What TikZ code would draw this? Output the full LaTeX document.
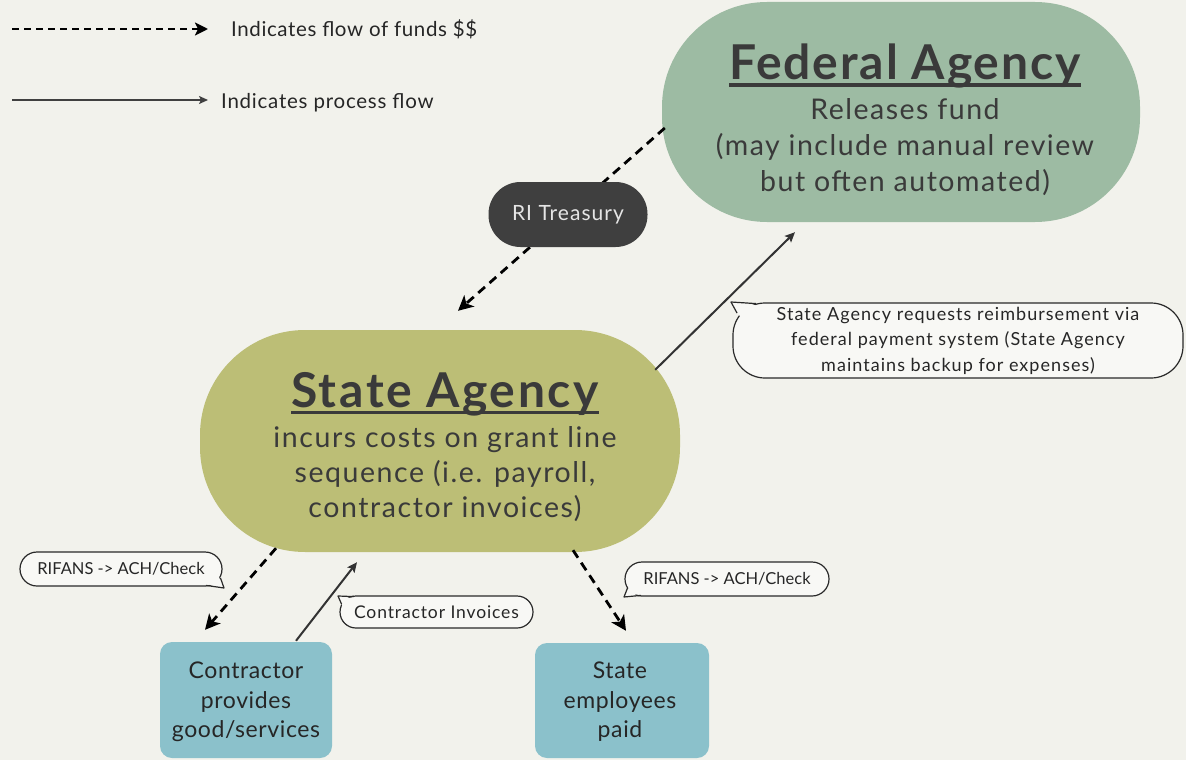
\documentclass[tikz,border=0pt]{standalone}
\usepackage{fontspec}
\setmainfont{Lato}
\usetikzlibrary{arrows.meta,calc}
\definecolor{bg}{HTML}{F2F2EC}
\definecolor{fedc}{HTML}{9DBBA3}
\definecolor{statec}{HTML}{BCBE76}
\definecolor{trec}{HTML}{3F3F3F}
\definecolor{boxc}{HTML}{8BC1CB}
\definecolor{txt}{HTML}{3A3A3A}
\definecolor{cfill}{HTML}{F8F8F5}
\definecolor{cline}{HTML}{2A2A2A}
\newcommand\hul[1]{\setbox0\hbox{#1}\rlap{\rule[-7pt]{\wd0}{3.5pt}}\box0}
\newcommand\ls[1]{\addfontfeatures{LetterSpace=#1}}
\tikzset{
  bigshape/.style={inner sep=0pt, rounded corners=105pt},
  smallbox/.style={fill=boxc, rounded corners=12pt, inner sep=0pt},
  bubble/.style={draw=cline, fill=cfill, line width=1.2pt, inner sep=0pt, text=black!85},
  fund/.style={draw=black, line width=2.8pt, dash pattern=on 9pt off 6pt, -{Stealth[length=15pt,width=15pt,inset=4pt]}},
  proc/.style={draw=black!80, line width=2pt, -{Stealth[length=10pt,width=9pt,inset=2pt]}},
  tailfill/.style={fill=cfill},
  tailline/.style={draw=cline, line width=1.2pt, line join=round},
}
\begin{document}
\begin{tikzpicture}[x=1pt,y=-1pt]
\fill[bg] (0,0) rectangle (1186,760);
\useasboundingbox (0,0) rectangle (1186,760);

% legend
\coordinate (l1s) at (12,29);
\coordinate (l1e) at (208,29);
\draw[draw=black, line width=2.2pt, dash pattern=on 7pt off 5pt, -{Stealth[length=13pt,width=13pt,inset=3pt]}] (l1s) -- (l1e);
\node[anchor=base west, inner sep=0pt, font=\fontsize{20.5}{24}\selectfont\ls{3}, text=black!85] (leg1) at (231,37) {Indicates flow of funds \$\$};
\coordinate (l2s) at (12,100);
\coordinate (l2e) at (208,100);
\draw[draw=black!75, line width=2pt, -{Stealth[length=9pt,width=8pt,inset=2pt]}] (l2s) -- (l2e);
\node[anchor=base west, inner sep=0pt, font=\fontsize{20.5}{24}\selectfont\ls{3.7}, text=black!85] (leg2) at (221,108) {Indicates process flow};

% main shapes
\node[bigshape, fill=fedc, minimum width=478pt, minimum height=220pt] (fed) at (901,112) {};
\node[bigshape, fill=statec, minimum width=480pt, minimum height=222pt] (state) at (440,441) {};

% funds flow federal -> state (through treasury)
\draw[fund] ($(fed.west)+(3,16)$) -- ($(state.north)+(18,-19)$);

\node[fill=trec, rounded corners=32pt, minimum width=159pt, minimum height=65pt, inner sep=0pt,
      text=white!90!black, font=\fontsize{21}{24}\selectfont\ls{5}] (tre) at (568,214.5) {RI Treasury};

% texts in big shapes
\node[anchor=base, inner sep=0pt, text=txt, font=\bfseries\fontsize{48}{54}\selectfont\ls{4}] (fedtitle) at (905,80) {\hul{Federal Agency}};
\node[align=center, inner sep=0pt, text=txt, font=\fontsize{28.5}{36}\selectfont\ls{5.3}] (fedbody) at (905,147)
  {Releases fund\\(may include manual review\\but often automated)};
\node[anchor=base, inner sep=0pt, text=txt, font=\bfseries\fontsize{48}{54}\selectfont\ls{5.5}] (sttitle) at (445,407) {\hul{State Agency}};
\node[align=center, inner sep=0pt, text=txt, font=\fontsize{28.5}{35}\selectfont\ls{5.5}] (stbody) at (445,474)
  {incurs costs on grant line\\sequence (i.e. payroll,\\contractor invoices)};

% bottom boxes
\node[smallbox, minimum width=172pt, minimum height=116pt] (con) at (246,700) {};
\node[align=center, inner sep=0pt, text=black!85, font=\fontsize{23}{29.5}\selectfont\ls{2.6}] (context) at (246,702)
  {Contractor\\provides\\good/services};
\node[smallbox, minimum width=174pt, minimum height=115pt] (emp) at (622,700.5) {};
\node[align=center, inner sep=0pt, text=black!85, font=\fontsize{23}{29.5}\selectfont\ls{2.6}] (emptext) at (620,702)
  {State\\employees\\paid};

% connectors
\draw[proc] ($(state.north east)+(-25,40)$) -- ($(fed.south)+(-106,10)$);
\draw[fund] ($(state.south)+(-164,-4)$) -- ($(con.north)+(-41,-12)$);
\draw[proc] ($(con.north)+(50,-1)$) -- ($(state.south)+(-83,10)$);
\draw[fund] ($(state.south)+(133,-2)$) -- ($(emp.north)+(4,-12)$);

% callouts
\node[bubble, rounded corners=32pt, minimum width=450pt, minimum height=75pt, align=center,
      font=\fontsize{18}{25.5}\selectfont\ls{5.8}] (bigc) at (958,340.5)
  {State Agency requests reimbursement via\\federal payment system (State Agency\\maintains backup for expenses)};
\fill[tailfill] (731,302) -- (757,305.5) -- (741,318) -- cycle;
\draw[tailline] (756,303.6) -- (731,302) -- (737,313);

\node[bubble, rounded corners=17pt, minimum width=202pt, minimum height=34pt,
      font=\fontsize{16.5}{20}\selectfont] (rif1) at (121,569) {RIFANS -> ACH/Check};
\fill[tailfill] (224,588) -- (206,584) -- (218,575) -- cycle;
\draw[tailline] (206,585.4) -- (224,588) -- (220.5,578);

\node[bubble, rounded corners=16pt, minimum width=193pt, minimum height=32pt,
      font=\fontsize{17.5}{20}\selectfont\ls{5}] (inv) at (436.5,612) {Contractor Invoices};
\fill[tailfill] (338,596) -- (354,598.5) -- (343,607) -- cycle;
\draw[tailline] (354,596.6) -- (338,596) -- (341.5,604);

\node[bubble, rounded corners=17pt, minimum width=204pt, minimum height=34pt,
      font=\fontsize{16.5}{20}\selectfont] (rif2) at (727,579) {RIFANS -> ACH/Check};
\fill[tailfill] (624,597) -- (641,593.5) -- (630,585) -- cycle;
\draw[tailline] (641,595.4) -- (624,597) -- (627.5,588);
\end{tikzpicture}
\end{document}
